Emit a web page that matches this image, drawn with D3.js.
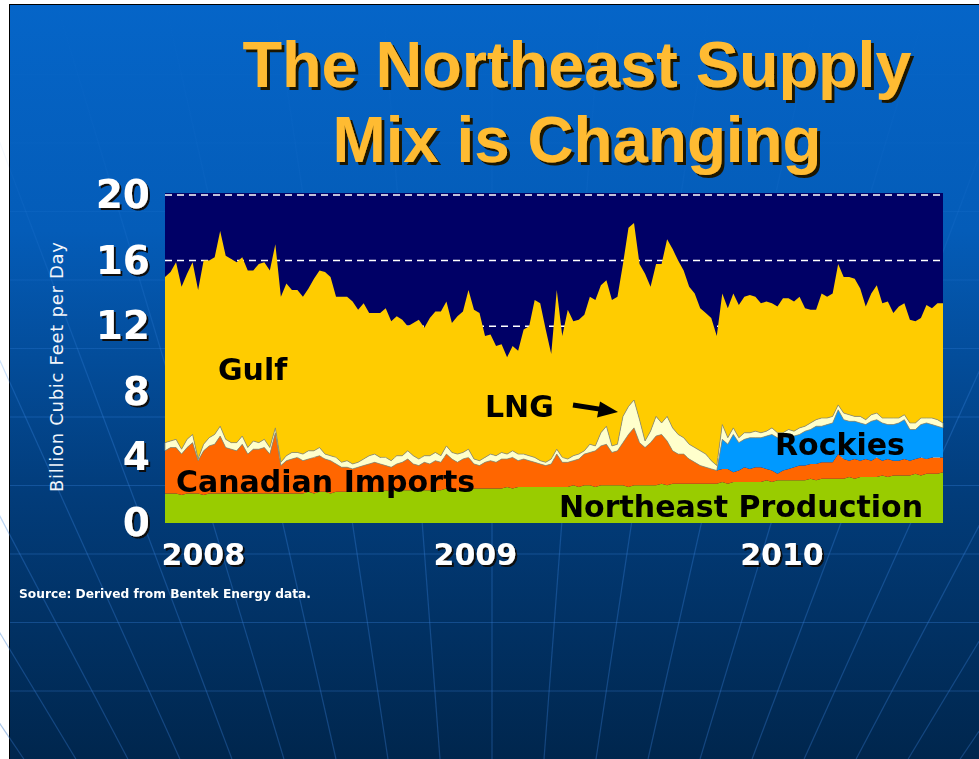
<!DOCTYPE html>
<html>
<head>
<meta charset="utf-8">
<script src="https://cdn.jsdelivr.net/npm/d3@7"></script>
<style>
  body { margin: 0; background: #fff; }
  svg { display: block; }
</style>
</head>
<body>
<div id="chart"></div>
<script>
// weekly supply, billion cubic feet per day, first week starts 2008-01-01
const START = "2008-01-01";

const neProduction = [
  1.8,1.8,1.8,1.7,1.8,1.8,1.8,1.7,1.8,1.8,1.8,1.8,1.8,1.8,1.8,1.8,1.8,1.8,1.8,1.8,1.8,1.8,1.8,1.8,1.8,1.8,1.9,1.8,1.9,1.9,1.8,1.9,1.9,1.9,1.9,1.9,
  1.9,1.9,1.9,1.9,2.0,1.9,2.0,2.0,2.0,2.0,2.0,2.0,2.0,2.0,2.0,2.1,2.0,2.0,2.1,2.1,2.1,2.1,2.1,2.1,2.1,2.1,2.2,2.1,2.2,2.2,2.2,2.2,2.2,2.2,2.2,2.2,
  2.2,2.2,2.3,2.2,2.3,2.3,2.2,2.3,2.3,2.3,2.3,2.3,2.2,2.3,2.3,2.3,2.3,2.3,2.4,2.3,2.4,2.4,2.4,2.4,2.4,2.4,2.4,2.4,2.4,2.5,2.4,2.5,2.5,2.5,2.5,
  2.5,2.5,2.6,2.5,2.6,2.6,2.6,2.6,2.6,2.6,2.7,2.6,2.7,2.7,2.7,2.7,2.7,2.8,2.7,2.8,2.8,2.8,2.8,2.9,2.8,2.9,2.9,2.9,2.9,3.0,2.9,3.0,3.0,3.0,3.1
];

const canadian = [
  2.6,2.8,2.8,2.5,2.8,3.1,2.0,2.7,2.9,3.0,3.5,2.8,2.7,2.6,3.0,2.4,2.7,2.7,2.8,2.4,3.7,1.7,2.0,2.1,2.2,2.0,2.0,2.2,2.2,2.0,2.0,1.7,1.5,1.5,1.4,1.5,
  1.6,1.7,1.8,1.7,1.5,1.5,1.6,1.7,1.9,1.6,1.5,1.7,1.6,1.8,1.7,2.1,1.9,1.7,1.8,1.9,1.5,1.4,1.6,1.7,1.6,1.8,1.7,1.9,1.6,1.7,1.6,1.5,1.4,1.3,1.4,2.0,
  1.5,1.5,1.5,1.7,1.9,2.0,2.2,2.4,2.5,2.0,2.1,2.6,3.2,3.5,2.6,2.3,2.6,3.0,3.0,2.7,2.0,1.8,1.8,1.5,1.3,1.1,1.0,0.9,0.8,0.8,0.9,0.6,0.7,0.9,0.8,
  0.9,0.9,0.7,0.7,0.4,0.6,0.7,0.8,0.9,0.9,0.9,1.0,1.0,1.0,1.0,1.5,1.2,1.0,1.2,1.0,1.1,1.0,1.2,0.9,1.1,0.9,0.9,1.0,0.9,0.9,1.1,0.9,1.0,1.0,0.9
];

// Rockies gas arrives late in 2009 (week 101 onward)
const rockiesStartWeek = 101;
const rockies = [
  1.8,1.5,2.3,1.7,1.7,1.9,
  1.8,1.8,2.0,2.2,2.2,2.0,2.0,1.9,1.9,2.1,2.1,2.3,2.2,2.3,2.4,2.7,2.4,2.4,2.3,2.3,2.1,2.4,2.3,2.3,2.1,2.2,2.3,2.4,1.9,1.8,2.0,2.2,2.0,1.9,1.8
];

const lng = [
  0.5,0.4,0.5,0.3,0.5,0.5,0.1,0.4,0.5,0.6,0.6,0.5,0.4,0.5,0.5,0.4,0.5,0.4,0.5,0.4,0.3,0.2,0.3,0.4,0.3,0.4,0.5,0.4,0.5,0.3,0.3,0.4,0.3,0.4,0.3,0.3,
  0.4,0.5,0.5,0.4,0.5,0.4,0.5,0.4,0.5,0.5,0.4,0.4,0.5,0.5,0.4,0.5,0.4,0.5,0.4,0.5,0.3,0.3,0.3,0.4,0.4,0.4,0.3,0.4,0.4,0.3,0.3,0.3,0.2,0.2,0.3,0.3,
  0.3,0.2,0.3,0.3,0.2,0.5,0.3,0.8,1.1,0.4,0.4,1.6,1.7,1.7,1.4,0.4,0.7,1.2,0.7,1.5,1.4,1.2,1.0,0.9,0.9,0.9,0.8,0.5,0.3,0.9,0.4,0.4,0.3,0.4,0.3,
  0.4,0.3,0.3,0.4,0.3,0.3,0.4,0.3,0.4,0.3,0.4,0.4,0.5,0.4,0.4,0.3,0.4,0.4,0.3,0.4,0.3,0.4,0.4,0.3,0.4,0.4,0.3,0.3,0.4,0.4,0.4,0.3,0.4,0.4,0.3
];

const gulf = [
  10.1,10.3,10.8,9.9,10.1,10.5,10.3,11.2,10.8,10.8,11.9,11.2,11.2,11.0,10.9,10.8,10.4,10.9,10.8,10.8,11.2,10.1,10.5,9.9,9.9,9.6,9.9,10.5,10.8,11.1,10.9,9.8,10.1,10.0,9.9,9.3,
  9.5,8.7,8.6,8.8,9.1,8.5,8.5,8.3,7.6,8.1,8.5,7.8,8.4,8.6,8.8,8.8,7.9,8.4,8.6,9.7,9.1,9.0,7.4,7.3,6.7,6.6,5.9,6.4,6.3,7.6,7.9,9.6,9.6,8.1,6.4,9.7,
  7.4,9.1,8.2,8.2,8.3,9.0,8.9,9.0,8.9,8.9,9.0,9.3,10.9,10.8,9.5,10.2,8.8,9.3,9.7,10.8,10.9,10.6,10.2,9.6,9.4,8.7,8.6,8.7,7.9,8.0,7.9,8.2,8.1,8.3,8.4,
  8.2,7.9,7.9,7.6,7.7,8.2,8.0,7.9,8.0,7.2,6.9,6.7,7.6,7.4,7.5,8.6,8.3,8.4,8.4,7.8,6.9,7.4,7.8,7.0,7.1,6.4,6.8,6.8,6.3,6.2,6.1,6.9,6.7,7.1,7.3
];

const yTicks = [0, 4, 8, 12, 16, 20];
const gridValues = [4, 8, 12, 16, 20];
const yearLabels = ["2008", "2009", "2010"];
const yearLabelDates = ["2008-02-18", "2009-01-28", "2010-02-21"];

const width = 979, height = 759;
const plot = { left: 165, right: 943, top: 195, bottom: 523 };

const parse = d3.timeParse("%Y-%m-%d");
const start = parse(START);

const data = gulf.map((g, i) => ({
  date: d3.timeDay.offset(start, i * 7),
  ne: neProduction[i],
  canadian: canadian[i],
  rockies: i < rockiesStartWeek ? 0 : rockies[i - rockiesStartWeek],
  lng: lng[i],
  gulf: g
}));

const keys = ["ne", "canadian", "rockies", "lng", "gulf"];
const colors = { ne: "#99cc00", canadian: "#ff6600", rockies: "#0099ff", lng: "#ffffcc", gulf: "#ffcc00" };

const svg = d3.select("#chart").append("svg")
  .attr("width", width)
  .attr("height", height)
  .attr("viewBox", [0, 0, width, height]);

const defs = svg.append("defs");
const bg = defs.append("linearGradient").attr("id", "bg")
  .attr("x1", 0).attr("y1", 0).attr("x2", 0).attr("y2", 1);
bg.append("stop").attr("offset", "0%").attr("stop-color", "#0565c8");
bg.append("stop").attr("offset", "30%").attr("stop-color", "#045cb8");
bg.append("stop").attr("offset", "65%").attr("stop-color", "#023c7a");
bg.append("stop").attr("offset", "100%").attr("stop-color", "#00264d");

const lineFade = defs.append("linearGradient").attr("id", "lineFade")
  .attr("gradientUnits", "userSpaceOnUse")
  .attr("x1", 0).attr("y1", 0).attr("x2", 0).attr("y2", height);
lineFade.append("stop").attr("offset", "0%").attr("stop-color", "#3a8ae8").attr("stop-opacity", 0);
lineFade.append("stop").attr("offset", "22%").attr("stop-color", "#3a8ae8").attr("stop-opacity", 0.06);
lineFade.append("stop").attr("offset", "55%").attr("stop-color", "#3a8ae8").attr("stop-opacity", 0.3);
lineFade.append("stop").attr("offset", "100%").attr("stop-color", "#2f6fc0").attr("stop-opacity", 0.42);

// hard-edged drop shadows for the white and orange texts
[["shadow3", 3, "#1e1206"], ["shadow2", 2, "#0a0a0a"]].forEach(([id, off, col]) => {
  defs.append("filter").attr("id", id)
    .attr("x", "-5%").attr("y", "-10%").attr("width", "115%").attr("height", "130%")
    .append("feDropShadow")
    .attr("dx", off).attr("dy", off).attr("stdDeviation", 0.3)
    .attr("flood-color", col).attr("flood-opacity", 1);
});

// slide background
svg.append("rect")
  .attr("x", 9.5).attr("y", 4.5)
  .attr("width", width - 9).attr("height", height - 4)
  .attr("fill", "url(#bg)")
  .attr("stroke", "#000").attr("stroke-width", 1);

// faint globe grid behind everything
const decor = svg.append("g").attr("stroke", "url(#lineFade)").attr("fill", "none").attr("stroke-width", 1.2);
d3.range(-1, 9).forEach(k => {
  const yy = 143 + 68.5 * k;
  decor.append("line").attr("x1", 10).attr("x2", width).attr("y1", yy).attr("y2", yy);
});
const pole = [492, 1450];
d3.range(-10, 10).forEach(k => {
  const xTop = pole[0] + k * 67 * (pole[1] - 5) / (pole[1] - 560);
  const xBot = pole[0] + k * 67 * (pole[1] - height) / (pole[1] - 560);
  decor.append("line").attr("x1", xTop).attr("y1", 5).attr("x2", xBot).attr("y2", height);
});

const x = d3.scaleTime()
  .domain(d3.extent(data, d => d.date))
  .range([plot.left, plot.right]);

const y = d3.scaleLinear()
  .domain([0, 20])
  .range([plot.bottom, plot.top]);

// plot background
svg.append("rect")
  .attr("x", plot.left).attr("y", plot.top - 2)
  .attr("width", plot.right - plot.left).attr("height", plot.bottom - plot.top + 2)
  .attr("fill", "#000066");

svg.append("g")
  .selectAll("line")
  .data(gridValues)
  .join("line")
  .attr("x1", plot.left).attr("x2", plot.right)
  .attr("y1", d => y(d)).attr("y2", d => y(d))
  .attr("stroke", "#fff")
  .attr("stroke-width", 1.5)
  .attr("stroke-dasharray", "7,5");

const series = d3.stack().keys(keys)(data);

const area = d3.area()
  .x(d => x(d.data.date))
  .y0(d => y(d[0]))
  .y1(d => y(d[1]));

const layers = svg.append("g");
layers.selectAll("path")
  .data(series)
  .join("path")
  .attr("fill", d => colors[d.key])
  .attr("stroke", d => d.key === "lng" ? "#8a8a66" : "none")
  .attr("stroke-width", 0.7)
  .attr("d", area);
layers.selectAll("path").filter(d => d.key === "lng").raise();

svg.append("g")
  .attr("transform", `translate(${plot.left}, 0)`)
  .attr("filter", "url(#shadow2)")
  .call(d3.axisLeft(y).tickValues(yTicks).tickSize(0).tickPadding(15))
  .call(g => g.select(".domain").remove())
  .call(g => g.selectAll("text")
    .attr("fill", "#fff")
    .style("font-family", "'DejaVu Sans', Verdana, sans-serif")
    .style("font-weight", "bold")
    .style("font-size", "39px"));

svg.append("g")
  .attr("transform", `translate(0, ${plot.bottom})`)
  .attr("filter", "url(#shadow2)")
  .call(d3.axisBottom(x)
    .tickValues(yearLabelDates.map(parse))
    .tickFormat((d, i) => yearLabels[i])
    .tickSize(0).tickPadding(21))
  .call(g => g.select(".domain").remove())
  .call(g => g.selectAll("text")
    .attr("fill", "#fff")
    .style("font-family", "'DejaVu Sans', Verdana, sans-serif")
    .style("font-weight", "bold")
    .style("font-size", "30px"));

svg.append("text")
  .attr("transform", "translate(63, 367) rotate(-90)")
  .attr("text-anchor", "middle")
  .attr("textLength", 250)
  .attr("fill", "#f2f5fa")
  .style("font-family", "'DejaVu Sans', Verdana, sans-serif")
  .style("font-size", "18px")
  .text("Billion Cubic Feet per Day");

// title
const titleLines = [
  { text: "The Northeast Supply", y: 87, len: 669 },
  { text: "Mix is Changing", y: 162, len: 489 }
];
svg.append("g")
  .attr("filter", "url(#shadow3)")
  .selectAll("text")
  .data(titleLines)
  .join("text")
  .attr("x", 577)
  .attr("y", d => d.y)
  .attr("text-anchor", "middle")
  .attr("textLength", d => d.len)
  .attr("lengthAdjust", "spacingAndGlyphs")
  .attr("fill", "#ffbb33")
  .style("font-family", "'Liberation Sans', Arial, sans-serif")
  .style("font-weight", "bold")
  .style("font-size", "64px")
  .text(d => d.text);

// series labels inside the chart
const seriesLabels = [
  { text: "Gulf", x: 218, y: 380 },
  { text: "LNG", x: 485, y: 417 },
  { text: "Canadian Imports", x: 176, y: 492 },
  { text: "Rockies", x: 775, y: 455 },
  { text: "Northeast Production", x: 559, y: 517 }
];
svg.append("g").selectAll("text")
  .data(seriesLabels)
  .join("text")
  .attr("x", d => d.x)
  .attr("y", d => d.y)
  .attr("fill", "#000")
  .style("font-family", "'DejaVu Sans', Verdana, sans-serif")
  .style("font-weight", "bold")
  .style("font-size", "30px")
  .text(d => d.text);

// LNG arrow
svg.append("line")
  .attr("x1", 573).attr("y1", 405)
  .attr("x2", 603).attr("y2", 409.6)
  .attr("stroke", "#000").attr("stroke-width", 5);
svg.append("polygon")
  .attr("points", "618,412 600,401.5 597,417.5")
  .attr("fill", "#000");

svg.append("text")
  .attr("x", 19).attr("y", 598)
  .attr("textLength", 292)
  .attr("lengthAdjust", "spacingAndGlyphs")
  .attr("fill", "#fff")
  .style("font-family", "'DejaVu Sans', Verdana, sans-serif")
  .style("font-weight", "bold")
  .style("font-size", "12px")
  .text("Source: Derived from Bentek Energy data.");
</script>
</body>
</html>
